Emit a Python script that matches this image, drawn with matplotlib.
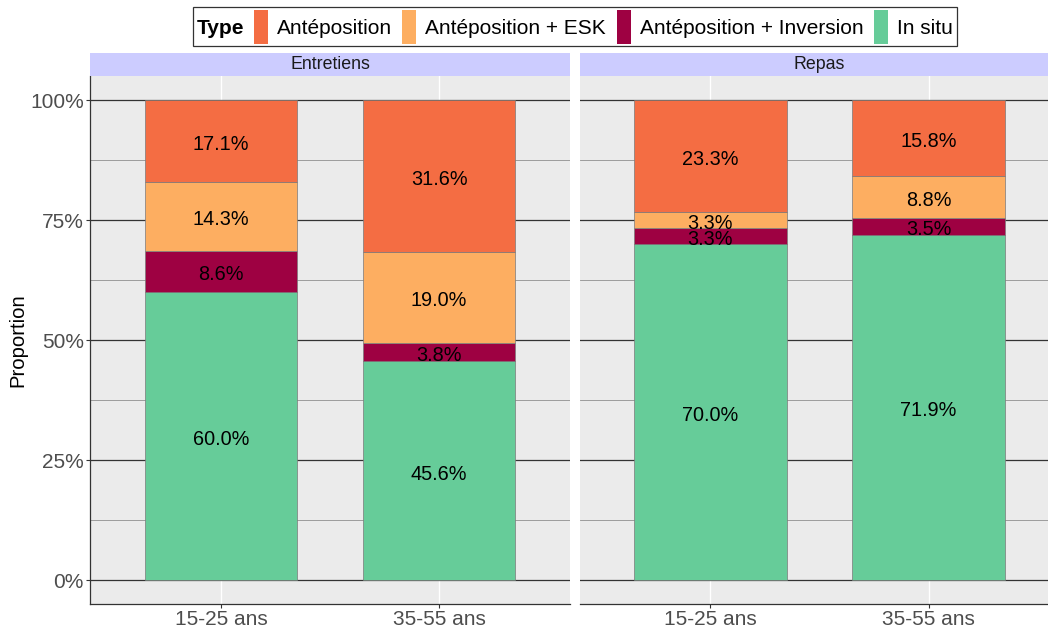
import numpy as np
import matplotlib.pyplot as plt
from matplotlib.patches import Rectangle
from matplotlib.ticker import FixedLocator, PercentFormatter

plt.rcParams['font.family'] = ['Liberation Sans', 'DejaVu Sans']

# ---------- Data ----------
facets = ["Entretiens", "Repas"]
groups = ["15-25 ans", "35-55 ans"]
types = ["Antéposition", "Antéposition + ESK", "Antéposition + Inversion", "In situ"]
colors = ["#F46D43", "#FDAE61", "#9E0142", "#66CC99"]

# proportions (%) per facet, group order as in `groups`
in_situ = {"Entretiens": [60.0, 45.6], "Repas": [70.0, 71.9]}
inversion = {"Entretiens": [8.6, 3.8], "Repas": [3.3, 3.5]}
esk = {"Entretiens": [14.3, 19.0], "Repas": [3.3, 8.8]}
anteposition = {"Entretiens": [17.1, 31.6], "Repas": [23.3, 15.8]}

W, H = 1048, 628
fig = plt.figure(figsize=(W / 100, H / 100), dpi=100)

def fx(px):
    return px / W

def fy(py):
    return 1 - py / H

panel_left = [90, 579.5]
panel_w = 480
panel_top, panel_bot = 76, 604
strip_top = 53

for i, facet in enumerate(facets):
    ax = fig.add_axes([fx(panel_left[i]), fy(panel_bot), panel_w / W, (panel_bot - panel_top) / H])
    ax.set_facecolor("#EBEBEB")
    ax.set_xlim(0.4, 2.6)
    ax.set_ylim(-0.05, 1.05)

    ax.yaxis.set_major_locator(FixedLocator([0, 0.25, 0.5, 0.75, 1.0]))
    ax.yaxis.set_minor_locator(FixedLocator([0.125, 0.375, 0.625, 0.875]))
    ax.grid(which="major", axis="y", color="#333333", linewidth=0.9, zorder=0)
    ax.grid(which="minor", axis="y", color="#8F8F8F", linewidth=0.6, zorder=0)
    ax.grid(which="major", axis="x", color="white", linewidth=1.0, zorder=0)
    ax.set_axisbelow(True)

    x = np.arange(1, len(groups) + 1)
    stack = [in_situ[facet], inversion[facet], esk[facet], anteposition[facet]]
    stack_cols = [colors[3], colors[2], colors[1], colors[0]]
    bottom = np.zeros(len(groups))
    for vals, col in zip(stack, stack_cols):
        v = np.array(vals) / 100
        ax.bar(x, v, bottom=bottom, width=0.7, color=col, edgecolor="#7A7A7A",
               linewidth=0.5, zorder=2)
        for xi, b, h, raw in zip(x, bottom, v, vals):
            ax.annotate(f"{raw:.1f}%", (xi, b + h / 2), xytext=(0, -2.5),
                        textcoords="offset points", ha="center", va="center",
                        fontsize=14.3, color="black", zorder=3)
        bottom += v

    ax.set_xticks(x)
    ax.set_xticklabels(groups)
    ax.yaxis.set_major_formatter(PercentFormatter(1.0, decimals=0))
    ax.tick_params(axis="both", which="major", labelsize=15, labelcolor="#4D4D4D",
                   color="#333333", length=3, width=0.8, pad=1.5)
    ax.tick_params(axis="both", which="minor", length=0)
    for s in ["top", "right"]:
        ax.spines[s].set_visible(False)
    ax.spines["bottom"].set_color("#333333")
    ax.spines["bottom"].set_linewidth(0.9)
    if i == 0:
        ax.spines["left"].set_color("#333333")
        ax.spines["left"].set_linewidth(0.9)
        ax.set_ylabel("Proportion", fontsize=14.6, labelpad=2)
    else:
        ax.spines["left"].set_visible(False)
        ax.tick_params(axis="y", which="major", labelleft=False, left=False)

    # facet strip
    sax = fig.add_axes([fx(panel_left[i]), fy(panel_top), panel_w / W, (panel_top - strip_top) / H])
    sax.set_facecolor("#CCCCFF")
    sax.set_xticks([])
    sax.set_yticks([])
    for s in sax.spines.values():
        s.set_visible(False)
    sax.text(0.5, 0.5, facet, ha="center", va="center", fontsize=12.8, color="#1A1A1A",
             transform=sax.transAxes)

# ---------- Legend (top, horizontal, title at left) ----------
fig.patches.append(Rectangle((fx(193), fy(46)), (957 - 193) / W, 39 / H,
                             transform=fig.transFigure, facecolor="white",
                             edgecolor="#333333", linewidth=0.9))
fig.text(fx(197), fy(28), "Type", fontsize=15, fontweight="bold", va="center", ha="left")
key_x = [254, 402, 617, 874]
for kx, lab, col in zip(key_x, types, colors):
    fig.patches.append(Rectangle((fx(kx), fy(44)), 14 / W, 34 / H,
                                 transform=fig.transFigure, facecolor=col,
                                 edgecolor="none"))
    fig.text(fx(kx + 23), fy(28), lab, fontsize=15, va="center", ha="left")

fig.savefig("out.png", dpi=100)
